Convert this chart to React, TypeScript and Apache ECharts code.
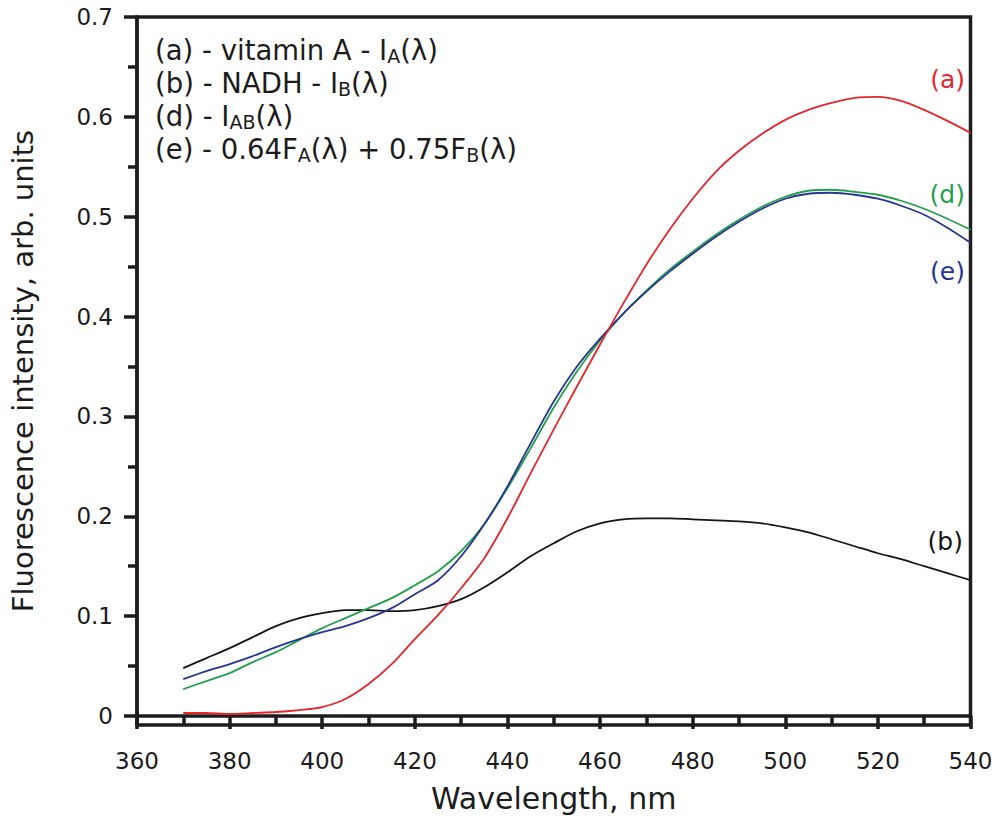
import { useEffect, useRef } from 'react';
import * as echarts from 'echarts';

const wavelengths = [370, 375, 380, 385, 390, 395, 400, 405, 410, 415, 420, 425, 430, 435, 440, 445, 450, 455, 460, 465, 470, 475, 480, 485, 490, 495, 500, 505, 510, 515, 520, 525, 530, 535, 540];

// (a) vitamin A
const seriesA = [0.003, 0.003, 0.002, 0.003, 0.004, 0.006, 0.009, 0.017, 0.032, 0.052, 0.077, 0.101, 0.128, 0.158, 0.198, 0.243, 0.287, 0.330, 0.372, 0.413, 0.452, 0.487, 0.518, 0.545, 0.566, 0.583, 0.597, 0.607, 0.614, 0.619, 0.620, 0.616, 0.607, 0.596, 0.584];
// (b) NADH
const seriesB = [0.048, 0.058, 0.068, 0.079, 0.090, 0.098, 0.103, 0.106, 0.106, 0.105, 0.106, 0.110, 0.117, 0.129, 0.144, 0.160, 0.173, 0.185, 0.193, 0.197, 0.198, 0.198, 0.197, 0.196, 0.195, 0.193, 0.189, 0.184, 0.177, 0.170, 0.163, 0.157, 0.150, 0.143, 0.136];
// (d) I_AB
const seriesD = [0.027, 0.035, 0.043, 0.054, 0.064, 0.076, 0.088, 0.098, 0.108, 0.118, 0.131, 0.145, 0.165, 0.192, 0.228, 0.268, 0.309, 0.345, 0.376, 0.403, 0.426, 0.447, 0.465, 0.482, 0.497, 0.510, 0.520, 0.526, 0.527, 0.525, 0.522, 0.516, 0.508, 0.498, 0.487];
// (e) 0.64 F_A + 0.75 F_B
const seriesE = [0.037, 0.045, 0.052, 0.060, 0.069, 0.077, 0.084, 0.090, 0.098, 0.108, 0.122, 0.136, 0.160, 0.192, 0.230, 0.273, 0.315, 0.350, 0.378, 0.403, 0.425, 0.445, 0.463, 0.480, 0.495, 0.508, 0.518, 0.523, 0.524, 0.522, 0.518, 0.511, 0.502, 0.489, 0.474];

const yMajorTicks = [0, 0.1, 0.2, 0.3, 0.4, 0.5, 0.6, 0.7];
const yMinorTicks = [0.05, 0.15, 0.25, 0.35, 0.45, 0.55, 0.65];

const FONT = 'DejaVu Sans';
const INK = '#1c1c1c';
const RED = '#e8252b';
const GREEN = '#22a04b';
const BLUE = '#283593';
const BLACK = '#151515';

const toPairs = (vals: number[]) => wavelengths.map((w, i) => [w, vals[i]]);

export default function App() {
  const ref = useRef<HTMLDivElement>(null);
  useEffect(() => {
    document.body.style.margin = '0';
    const chart = echarts.init(ref.current!, null, { renderer: 'svg' });
    const lineStyle = (c: string) => ({ color: c, width: 1.8 });
    chart.setOption({
      animation: false,
      backgroundColor: '#ffffff',
      grid: {
        left: 127.5,
        right: 27.5,
        top: 17,
        bottom: 95,
        show: true,
        borderColor: INK,
        borderWidth: 3.5,
        backgroundColor: 'transparent',
      },
      xAxis: {
        type: 'value',
        min: 360,
        max: 540,
        interval: 20,
        name: 'Wavelength, nm',
        nameLocation: 'middle',
        nameGap: 58,
        nameTextStyle: { fontFamily: FONT, fontSize: 30, color: INK, verticalAlign: 'top' },
        axisLine: { show: true, lineStyle: { color: INK, width: 3.5 } },
        axisTick: { show: true, inside: false, length: 13, lineStyle: { color: INK, width: 3.5 } },
        minorTick: { show: true, splitNumber: 2, length: 9, lineStyle: { color: INK, width: 3.5 } },
        axisLabel: { fontFamily: FONT, fontSize: 23, color: INK, margin: 24, showMinLabel: true, showMaxLabel: true },
        splitLine: { show: false },
        minorSplitLine: { show: false },
      },
      yAxis: [
        {
          type: 'value',
          min: -0.009,
          max: 0.7,
          position: 'left',
          name: 'Fluorescence intensity, arb. units',
          nameLocation: 'middle',
          nameGap: 100,
          nameRotate: 90,
          nameTextStyle: { fontFamily: FONT, fontSize: 29, color: INK },
          axisLine: { show: true, lineStyle: { color: INK, width: 3.5 } },
          axisTick: { show: true, inside: false, length: 13, customValues: yMajorTicks, lineStyle: { color: INK, width: 3.5 } },
          axisLabel: {
            fontFamily: FONT,
            fontSize: 23,
            color: INK,
            margin: 24,
            customValues: yMajorTicks,
            formatter: (v: number) => (Math.abs(v) < 1e-9 ? '0' : v.toFixed(1)),
          },
          splitLine: { show: false },
        },
        {
          type: 'value',
          min: -0.009,
          max: 0.7,
          position: 'left',
          axisLine: { show: false },
          axisTick: { show: true, inside: false, length: 9, customValues: yMinorTicks, lineStyle: { color: INK, width: 3.5 } },
          axisLabel: { show: false },
          splitLine: { show: false },
        },
      ],
      series: [
        { name: '(b)', type: 'line', data: toPairs(seriesB), showSymbol: false, smooth: 0.3, lineStyle: lineStyle(BLACK), z: 2 },
        { name: '(d)', type: 'line', data: toPairs(seriesD), showSymbol: false, smooth: 0.3, lineStyle: lineStyle(GREEN), z: 3 },
        { name: '(e)', type: 'line', data: toPairs(seriesE), showSymbol: false, smooth: 0.3, lineStyle: lineStyle(BLUE), z: 4 },
        { name: '(a)', type: 'line', data: toPairs(seriesA), showSymbol: false, smooth: 0.3, lineStyle: lineStyle(RED), z: 5 },
      ],
      graphic: [
        {
          type: 'text',
          left: 155,
          top: 36,
          style: {
            text:
              '{n|(a) - vitamin A - I}{s|A}{n|(λ)}\n' +
              '{n|(b) - NADH - I}{s|B}{n|(λ)}\n' +
              '{n|(d) - I}{s|AB}{n|(λ)}\n' +
              '{n|(e) - 0.64F}{s|A}{n|(λ) + 0.75F}{s|B}{n|(λ)}',
            fill: INK,
            rich: {
              n: { fontFamily: FONT, fontSize: 27.5, lineHeight: 33, color: INK },
              s: { fontFamily: FONT, fontSize: 19, color: INK, padding: [12, 0, 0, 0] },
            },
          },
        },
        { type: 'text', x: 965, y: 79, style: { text: '(a)', fill: RED, font: `25px "${FONT}"`, align: 'right', verticalAlign: 'middle' } },
        { type: 'text', x: 965, y: 194, style: { text: '(d)', fill: GREEN, font: `25px "${FONT}"`, align: 'right', verticalAlign: 'middle' } },
        { type: 'text', x: 965, y: 271, style: { text: '(e)', fill: BLUE, font: `25px "${FONT}"`, align: 'right', verticalAlign: 'middle' } },
        { type: 'text', x: 963, y: 541, style: { text: '(b)', fill: BLACK, font: `25px "${FONT}"`, align: 'right', verticalAlign: 'middle' } },
      ],
    });
    return () => chart.dispose();
  }, []);
  return <div ref={ref} style={{ width: 998, height: 820 }} />;
}
